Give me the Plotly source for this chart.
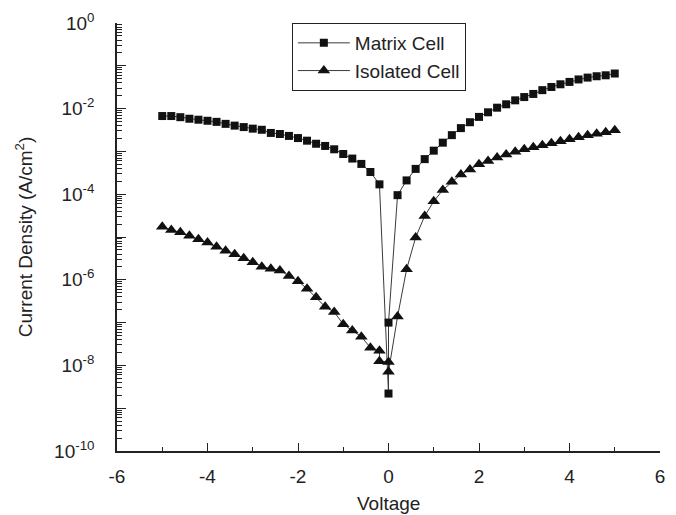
import plotly.graph_objects as go

# Voltage (V)
voltage_matrix = [-5.0, -4.8, -4.6, -4.4, -4.2, -4.0, -3.8, -3.6, -3.4, -3.2, -3.0, -2.8, -2.6,
                  -2.4, -2.2, -2.0, -1.8, -1.6, -1.4, -1.2, -1.0, -0.8, -0.6, -0.4, -0.2,
                  0.0, 0.0,
                  0.2, 0.4, 0.6, 0.8, 1.0, 1.2, 1.4, 1.6, 1.8, 2.0, 2.2, 2.4, 2.6, 2.8, 3.0,
                  3.2, 3.4, 3.6, 3.8, 4.0, 4.2, 4.4, 4.6, 4.8, 5.0]
current_matrix = [6.7e-3, 6.7e-3, 6.3e-3, 5.8e-3, 5.5e-3, 5.2e-3, 4.9e-3, 4.4e-3, 4.0e-3, 3.7e-3,
                  3.4e-3, 3.2e-3, 2.7e-3, 2.55e-3, 2.3e-3, 2.05e-3, 1.78e-3, 1.51e-3, 1.34e-3,
                  1.12e-3, 8.7e-4, 6.8e-4, 5.1e-4, 3.3e-4, 1.7e-4,
                  2.2e-9, 1.0e-7,
                  9.5e-5, 2.1e-4, 3.9e-4, 6.6e-4, 1.04e-3, 1.6e-3, 2.4e-3, 3.5e-3, 4.8e-3,
                  6.4e-3, 8.2e-3, 1.05e-2, 1.26e-2, 1.56e-2, 1.86e-2, 2.2e-2, 2.7e-2, 3.2e-2,
                  3.7e-2, 4.2e-2, 4.8e-2, 5.3e-2, 5.7e-2, 6.0e-2, 6.6e-2]

voltage_isolated = [-5.0, -4.8, -4.6, -4.4, -4.2, -4.0, -3.8, -3.6, -3.4, -3.2, -3.0, -2.8, -2.6,
                    -2.4, -2.2, -2.0, -1.8, -1.6, -1.4, -1.2, -1.0, -0.8, -0.6, -0.4, -0.2,
                    -0.2, 0.0, 0.0,
                    0.2, 0.4, 0.6, 0.8, 1.0, 1.2, 1.4, 1.6, 1.8, 2.0, 2.2, 2.4, 2.6, 2.8, 3.0,
                    3.2, 3.4, 3.6, 3.8, 4.0, 4.2, 4.4, 4.6, 4.8, 5.0]
current_isolated = [1.74e-5, 1.45e-5, 1.29e-5, 1.07e-5, 8.9e-6, 7.4e-6, 5.9e-6, 4.8e-6, 3.96e-6,
                    3.2e-6, 2.57e-6, 2.03e-6, 1.82e-6, 1.66e-6, 1.23e-6, 9.3e-7, 6.2e-7, 3.9e-7,
                    2.35e-7, 1.77e-7, 9.2e-8, 6.5e-8, 4.7e-8, 2.6e-8, 2.2e-8,
                    1.25e-8, 1.2e-8, 7.1e-9,
                    1.38e-7, 1.76e-6, 9.8e-6, 3.1e-5, 6.8e-5, 1.26e-4, 1.96e-4, 2.9e-4, 3.8e-4,
                    5.0e-4, 6.0e-4, 7.2e-4, 8.5e-4, 9.8e-4, 1.12e-3, 1.25e-3, 1.39e-3, 1.55e-3,
                    1.73e-3, 1.92e-3, 2.14e-3, 2.4e-3, 2.6e-3, 2.8e-3, 3.1e-3]

x_ticks = [-6, -4, -2, 0, 2, 4, 6]
y_decades = list(range(0, -11, -1))
y_tickvals = [10.0 ** d for d in y_decades]
y_ticktext = [("10<sup>%d</sup>" % d) if d % 2 == 0 else "" for d in y_decades]
y_minor = [k * 10.0 ** d for d in range(-10, 0) for k in range(2, 10)]

FONT = "Liberation Sans, Arial, sans-serif"
INK = "#222222"
LINE_COLOR = "#3a3a3a"
FS = 19

fig = go.Figure()
fig.add_trace(go.Scatter(
    x=voltage_matrix, y=current_matrix, name="Matrix Cell", mode="lines+markers",
    line=dict(color=LINE_COLOR, width=1),
    marker=dict(symbol="square", size=8, color="#111111"),
))
fig.add_trace(go.Scatter(
    x=voltage_isolated, y=current_isolated, name="Isolated Cell", mode="lines+markers",
    line=dict(color=LINE_COLOR, width=1),
    marker=dict(symbol="triangle-up", size=11, color="#111111"),
))

# the page body adds an 8px offset, so the figure is sized to fit inside it
fig.update_layout(
    width=660, height=507,
    margin=dict(l=109, r=8, t=15, b=64),
    paper_bgcolor="white", plot_bgcolor="white",
    font=dict(family=FONT, size=FS, color=INK),
    showlegend=True,
    legend=dict(
        x=0.322, y=1.0, xanchor="left", yanchor="top",
        bordercolor=INK, borderwidth=1, bgcolor="white",
        font=dict(family=FONT, size=FS, color=INK),
        tracegroupgap=0, itemwidth=52,
    ),
    xaxis=dict(
        range=[-6, 6], tickmode="array", tickvals=x_ticks,
        ticktext=[str(v) for v in x_ticks],
        ticks="inside", ticklen=8, tickwidth=1.2, tickcolor=INK,
        showline=True, linecolor=INK, linewidth=1.5,
        showgrid=False, zeroline=False, mirror=False, automargin=False,
        minor=dict(dtick=1, ticks="inside", ticklen=4, tickwidth=1, tickcolor=INK, showgrid=False),
        tickfont=dict(size=FS),
        ticklabelstandoff=7,
    ),
    yaxis=dict(
        type="log", range=[-10, 0], tickmode="array",
        tickvals=y_tickvals, ticktext=y_ticktext,
        ticks="inside", ticklen=9, tickwidth=1.2, tickcolor=INK,
        showline=True, linecolor=INK, linewidth=1.5,
        showgrid=False, zeroline=False, mirror=False, automargin=False,
        minor=dict(tickmode="array", tickvals=y_minor, ticks="inside", ticklen=5,
                   tickwidth=1, tickcolor=INK, showgrid=False),
        title=dict(text="Current Density (A/cm<sup>2</sup>)", standoff=16, font=dict(size=FS)),
        tickfont=dict(size=FS),
        ticklabelstandoff=17,
    ),
    annotations=[dict(
        text="Voltage", xref="paper", yref="paper", x=0.5, y=-0.1215,
        xanchor="center", yanchor="middle", showarrow=False,
        font=dict(family=FONT, size=FS, color=INK),
    )],
)

fig.write_html("out.html")
